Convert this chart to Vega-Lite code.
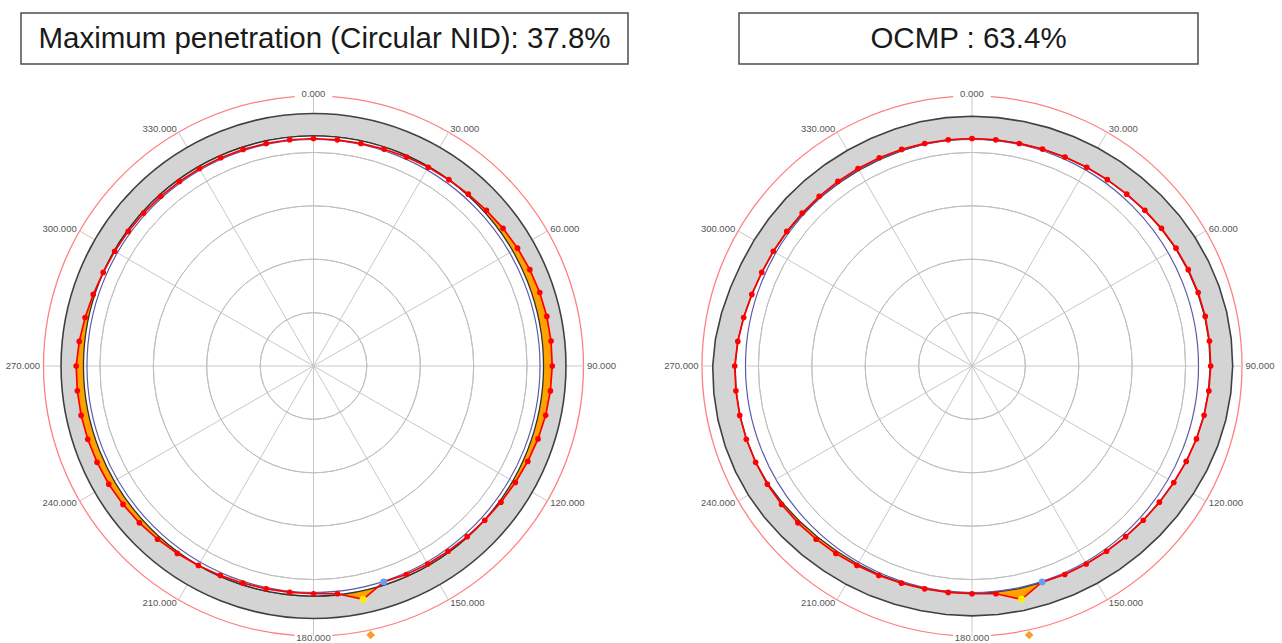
{
  "$schema": "https://vega.github.io/schema/vega-lite/v6.json",
  "background": "white",
  "padding": {"left": 0, "right": 0, "top": 12, "bottom": 0},
  "spacing": 22,
  "config": {"view": {"stroke": null}},
  "datasets": {
    "prof": [
      {"a":0,"r":213.0},{"a":6,"r":212.9},{"a":12,"r":213.0},{"a":18,"r":213.5},{"a":24,"r":214.2},{"a":30,"r":214.9},
      {"a":36,"r":215.6},{"a":42,"r":216.5},{"a":48,"r":217.8},{"a":54,"r":219.3},{"a":60,"r":220.6},{"a":66,"r":221.7},
      {"a":72,"r":222.7},{"a":78,"r":223.3},{"a":84,"r":223.6},{"a":90,"r":223.5},{"a":96,"r":223.0},{"a":102,"r":222.2},
      {"a":108,"r":221.0},{"a":114,"r":219.6},{"a":120,"r":218.2},{"a":126,"r":216.9},{"a":132,"r":215.8},{"a":138,"r":215.0},
      {"a":144,"r":214.4},{"a":150,"r":214.0},{"a":156,"r":213.7},{"a":162,"r":212.6},{"a":168,"r":223.3},{"a":174,"r":214.4},
      {"a":180,"r":213.2},{"a":186,"r":213.1},{"a":192,"r":213.3},{"a":198,"r":213.8},{"a":204,"r":214.6},{"a":210,"r":215.6},
      {"a":216,"r":216.9},{"a":222,"r":218.2},{"a":228,"r":219.4},{"a":234,"r":220.4},{"a":240,"r":221.3},{"a":246,"r":221.8},
      {"a":252,"r":222.2},{"a":258,"r":222.4},{"a":264,"r":222.3},{"a":270,"r":222.2},{"a":276,"r":220.5},{"a":282,"r":218.6},
      {"a":288,"r":216.8},{"a":294,"r":215.5},{"a":300,"r":214.9},{"a":306,"r":214.4},{"a":312,"r":214.0},{"a":318,"r":213.8},
      {"a":324,"r":213.6},{"a":330,"r":213.5},{"a":336,"r":213.4},{"a":342,"r":213.2},{"a":348,"r":213.0},{"a":354,"r":213.0},
      {"a":360,"r":213.0}
    ],
    "ringR": [
      {"a":0,"ri":212.8,"ro":233.8},{"a":6,"ri":212.8,"ro":233.8},{"a":12,"ri":213.0,"ro":234.0},{"a":18,"ri":213.4,"ro":234.4},
      {"a":24,"ri":214.0,"ro":235.0},{"a":30,"ri":214.7,"ro":235.7},{"a":36,"ri":215.5,"ro":236.5},{"a":42,"ri":216.4,"ro":237.4},
      {"a":48,"ri":217.6,"ro":238.6},{"a":54,"ri":218.9,"ro":239.9},{"a":60,"ri":220.1,"ro":241.1},{"a":66,"ri":221.2,"ro":242.2},
      {"a":72,"ri":222.1,"ro":243.1},{"a":78,"ri":222.8,"ro":243.8},{"a":84,"ri":223.1,"ro":244.1},{"a":90,"ri":223.1,"ro":244.1},
      {"a":96,"ri":222.7,"ro":243.7},{"a":102,"ri":222.0,"ro":243.0},{"a":108,"ri":221.0,"ro":242.0},{"a":114,"ri":219.7,"ro":240.7},
      {"a":120,"ri":218.3,"ro":239.3},{"a":126,"ri":217.0,"ro":238.0},{"a":132,"ri":215.9,"ro":236.9},{"a":138,"ri":215.0,"ro":236.0},
      {"a":144,"ri":214.3,"ro":235.3},{"a":150,"ri":213.8,"ro":234.8},{"a":156,"ri":213.4,"ro":234.4},{"a":162,"ri":213.1,"ro":234.1},
      {"a":168,"ri":213.0,"ro":234.0},{"a":174,"ri":212.9,"ro":233.9},{"a":180,"ri":212.9,"ro":233.9},{"a":186,"ri":212.9,"ro":233.9},
      {"a":192,"ri":213.1,"ro":234.1},{"a":198,"ri":213.4,"ro":234.6},{"a":204,"ri":213.8,"ro":235.3},{"a":210,"ri":214.1,"ro":236.0},
      {"a":216,"ri":214.7,"ro":236.8},{"a":222,"ri":215.8,"ro":237.9},{"a":228,"ri":217.2,"ro":239.2},{"a":234,"ri":218.9,"ro":240.6},
      {"a":240,"ri":220.6,"ro":241.8},{"a":246,"ri":221.6,"ro":242.6},{"a":252,"ri":222.0,"ro":243.0},{"a":258,"ri":222.2,"ro":243.2},
      {"a":264,"ri":222.1,"ro":243.1},{"a":270,"ri":221.8,"ro":242.8},{"a":276,"ri":220.6,"ro":241.6},{"a":282,"ri":218.7,"ro":239.7},
      {"a":288,"ri":216.8,"ro":237.8},{"a":294,"ri":215.4,"ro":236.4},{"a":300,"ri":214.6,"ro":235.6},{"a":306,"ri":213.9,"ro":235.0},
      {"a":312,"ri":213.1,"ro":234.5},{"a":318,"ri":212.4,"ro":234.0},{"a":324,"ri":211.8,"ro":233.5},{"a":330,"ri":211.6,"ro":233.2},
      {"a":336,"ri":211.7,"ro":233.2},{"a":342,"ri":212.1,"ro":233.4},{"a":348,"ri":212.6,"ro":233.7},{"a":354,"ri":212.8,"ro":233.8},
      {"a":360,"ri":212.8,"ro":233.8}
    ],
    "spokes": [{"a":0},{"a":30},{"a":60},{"a":90},{"a":120},{"a":150}],
    "labels": [
      {"a":0,"label":"0.000"},{"a":30,"label":"30.000"},{"a":60,"label":"60.000"},{"a":90,"label":"90.000"},
      {"a":120,"label":"120.000"},{"a":150,"label":"150.000"},{"a":180,"label":"180.000"},{"a":210,"label":"210.000"},
      {"a":240,"label":"240.000"},{"a":270,"label":"270.000"},{"a":300,"label":"300.000"},{"a":330,"label":"330.000"}
    ],
    "grid": [{"g":50},{"g":100},{"g":150},{"g":200}],
    "pink": [{"t1":4,"t2":176},{"t1":184,"t2":356}],
    "wall": [{"part":"wall"}],
    "maxmark": [{"a":168,"r":257.5}]
  },
  "vconcat": [
    {
      "spacing": 0,
      "hconcat": [
        {"width": 20, "height": 51, "data": {"values": [{"t": ""}]}, "mark": {"type": "text"}, "encoding": {"text": {"field": "t"}}},
        {"width": 607, "height": 51, "view": {"stroke": "#4d4d4d", "strokeWidth": 1.5, "fill": "white"},
         "data": {"values": [{"t": "Maximum penetration (Circular NID): 37.8%"}]},
         "mark": {"type": "text", "font": "Liberation Sans", "fontSize": 29.5, "fill": "#1a1a1a", "align": "center", "baseline": "middle"},
         "encoding": {"text": {"field": "t"}}},
        {"width": 109, "height": 51, "data": {"values": [{"t": ""}]}, "mark": {"type": "text"}, "encoding": {"text": {"field": "t"}}},
        {"width": 459, "height": 51, "view": {"stroke": "#4d4d4d", "strokeWidth": 1.5, "fill": "white"},
         "data": {"values": [{"t": "OCMP : 63.4%"}]},
         "mark": {"type": "text", "font": "Liberation Sans", "fontSize": 29.5, "fill": "#1a1a1a", "align": "center", "baseline": "middle"},
         "encoding": {"text": {"field": "t"}}}
      ]
    },
    {
      "spacing": 35,
      "hconcat": [
        {
          "width": 627,
          "height": 558,
          "layer": [
            {"data":{"name":"pink"},
             "mark":{"type":"arc","filled":false,"stroke":"#ff8080","strokeWidth":1.3},
             "encoding":{"theta":{"field":"t1","type":"quantitative","stack":null,"scale":{"type":"linear","domain":[0,360],"range":[0,6.283185307179586],"nice":false,"zero":false}},
                         "theta2":{"field":"t2"},
                         "radius":{"datum":252.8,"type":"quantitative","scale":{"type":"linear","domain":[0,300],"range":[0,320.4],"nice":false}},
                         "radius2":{"datum":252.8}}},
            {"data":{"name":"spokes"},
             "transform":[{"calculate":"-252.8*sin(datum.a*PI/180)","as":"xa"},{"calculate":"-252.8*cos(datum.a*PI/180)","as":"ya"},{"calculate":"252.8*sin(datum.a*PI/180)","as":"xb"},{"calculate":"252.8*cos(datum.a*PI/180)","as":"yb"}],
             "mark":{"type":"rule","stroke":"#c8c8c8","strokeWidth":1},
             "encoding":{"x":{"field":"xa","type":"quantitative","scale":{"domain":[-293.5,293.5],"nice":false,"zero":false},"axis":null},
                         "y":{"field":"ya","type":"quantitative","scale":{"domain":[-261.2,261.2],"nice":false,"zero":false},"axis":null},
                         "x2":{"field":"xb"},"y2":{"field":"yb"}}},
            {"data":{"name":"wall"},
             "mark":{"type":"arc","fill":"#d4d4d4","stroke":"#404040","strokeWidth":1.6},
             "encoding":{"theta":{"datum":0,"type":"quantitative","scale":{"type":"linear","domain":[0,360],"range":[0,6.283185307179586],"nice":false,"zero":false}},
                         "theta2":{"datum":360},
                         "radius":{"datum":236.4,"type":"quantitative","scale":{"type":"linear","domain":[0,300],"range":[0,320.4],"nice":false}},
                         "radius2":{"datum":215.4}}},
            {"data":{"name":"prof"},
             "transform":[{"calculate":"datum.r*sin(datum.a*PI/180)","as":"x"},{"calculate":"datum.r*cos(datum.a*PI/180)","as":"y"}],
             "mark":{"type":"line","fill":"#ffa200","strokeOpacity":0,"strokeWidth":0},
             "encoding":{"x":{"field":"x","type":"quantitative","scale":{"domain":[-293.5,293.5],"nice":false,"zero":false},"axis":null},
                         "y":{"field":"y","type":"quantitative","scale":{"domain":[-261.2,261.2],"nice":false,"zero":false},"axis":null},
                         "order":{"field":"a","type":"quantitative"}}},
            {"data":{"name":"wall"},
             "mark":{"type":"arc","fill":"#ffffff","strokeWidth":0},
             "encoding":{"theta":{"datum":0,"type":"quantitative","scale":{"type":"linear","domain":[0,360],"range":[0,6.283185307179586],"nice":false,"zero":false}},
                         "theta2":{"datum":360},
                         "radius":{"datum":215.4,"type":"quantitative","scale":{"type":"linear","domain":[0,300],"range":[0,320.4],"nice":false}},
                         "radius2":{"datum":0}}},
            {"data":{"name":"spokes"},
             "transform":[{"calculate":"-215.4*sin(datum.a*PI/180)","as":"xa"},{"calculate":"-215.4*cos(datum.a*PI/180)","as":"ya"},{"calculate":"215.4*sin(datum.a*PI/180)","as":"xb"},{"calculate":"215.4*cos(datum.a*PI/180)","as":"yb"}],
             "mark":{"type":"rule","stroke":"#c8c8c8","strokeWidth":1},
             "encoding":{"x":{"field":"xa","type":"quantitative","scale":{"domain":[-293.5,293.5],"nice":false,"zero":false},"axis":null},
                         "y":{"field":"ya","type":"quantitative","scale":{"domain":[-261.2,261.2],"nice":false,"zero":false},"axis":null},
                         "x2":{"field":"xb"},"y2":{"field":"yb"}}},
            {"data":{"name":"grid"},
             "mark":{"type":"arc","filled":false,"stroke":"#c0c0c0","strokeWidth":1},
             "encoding":{"theta":{"datum":0,"type":"quantitative","scale":{"type":"linear","domain":[0,360],"range":[0,6.283185307179586],"nice":false,"zero":false}},
                         "theta2":{"datum":360},
                         "radius":{"field":"g","type":"quantitative","scale":{"type":"linear","domain":[0,300],"range":[0,320.4],"nice":false}},
                         "radius2":{"field":"g"}}},
            {"data":{"name":"wall"},
             "mark":{"type":"arc","filled":false,"stroke":"#5c5ca6","strokeWidth":1.2},
             "encoding":{"theta":{"datum":0,"type":"quantitative","scale":{"type":"linear","domain":[0,360],"range":[0,6.283185307179586],"nice":false,"zero":false}},
                         "theta2":{"datum":360},
                         "radius":{"datum":212.1,"type":"quantitative","scale":{"type":"linear","domain":[0,300],"range":[0,320.4],"nice":false}},
                         "radius2":{"datum":212.1}}},
            {"data":{"name":"wall"},
             "mark":{"type":"arc","filled":false,"stroke":"#333333","strokeWidth":1.3},
             "encoding":{"theta":{"datum":0,"type":"quantitative","scale":{"type":"linear","domain":[0,360],"range":[0,6.283185307179586],"nice":false,"zero":false}},
                         "theta2":{"datum":360},
                         "radius":{"datum":215.4,"type":"quantitative","scale":{"type":"linear","domain":[0,300],"range":[0,320.4],"nice":false}},
                         "radius2":{"datum":215.4}}},
            {"data":{"name":"prof"},
             "transform":[{"calculate":"datum.r*sin(datum.a*PI/180)","as":"x"},{"calculate":"datum.r*cos(datum.a*PI/180)","as":"y"}],
             "mark":{"type":"line","stroke":"#ff0000","strokeWidth":1.7},
             "encoding":{"x":{"field":"x","type":"quantitative","scale":{"domain":[-293.5,293.5],"nice":false,"zero":false},"axis":null},
                         "y":{"field":"y","type":"quantitative","scale":{"domain":[-261.2,261.2],"nice":false,"zero":false},"axis":null},
                         "order":{"field":"a","type":"quantitative"}}},
            {"data":{"name":"prof"},
             "transform":[{"filter":"datum.a != 162 && datum.a != 168 && datum.a < 360"},{"calculate":"datum.r*sin(datum.a*PI/180)","as":"x"},{"calculate":"datum.r*cos(datum.a*PI/180)","as":"y"}],
             "mark":{"type":"point","filled":true,"fill":"#ff0000","size":32,"opacity":1,"strokeWidth":0},
             "encoding":{"x":{"field":"x","type":"quantitative","scale":{"domain":[-293.5,293.5],"nice":false,"zero":false},"axis":null},
                         "y":{"field":"y","type":"quantitative","scale":{"domain":[-261.2,261.2],"nice":false,"zero":false},"axis":null}}},
            {"data":{"name":"prof"},
             "transform":[{"filter":"datum.a == 162"},{"calculate":"datum.r*sin(datum.a*PI/180)","as":"x"},{"calculate":"datum.r*cos(datum.a*PI/180)","as":"y"}],
             "mark":{"type":"point","filled":true,"fill":"#6a9cf0","size":45,"opacity":1,"strokeWidth":0},
             "encoding":{"x":{"field":"x","type":"quantitative","scale":{"domain":[-293.5,293.5],"nice":false,"zero":false},"axis":null},
                         "y":{"field":"y","type":"quantitative","scale":{"domain":[-261.2,261.2],"nice":false,"zero":false},"axis":null}}},
            {"data":{"name":"prof"},
             "transform":[{"filter":"datum.a == 168"},{"calculate":"datum.r*sin(datum.a*PI/180)","as":"x"},{"calculate":"datum.r*cos(datum.a*PI/180)","as":"y"}],
             "mark":{"type":"point","filled":true,"fill":"#ffee00","size":50,"opacity":1,"strokeWidth":0},
             "encoding":{"x":{"field":"x","type":"quantitative","scale":{"domain":[-293.5,293.5],"nice":false,"zero":false},"axis":null},
                         "y":{"field":"y","type":"quantitative","scale":{"domain":[-261.2,261.2],"nice":false,"zero":false},"axis":null}}},
            {"data":{"name":"maxmark"},
             "transform":[{"calculate":"datum.r*sin(datum.a*PI/180)","as":"x"},{"calculate":"datum.r*cos(datum.a*PI/180)","as":"y"}],
             "mark":{"type":"point","shape":"diamond","filled":true,"fill":"#f5a02a","size":75,"opacity":1,"strokeWidth":0},
             "encoding":{"x":{"field":"x","type":"quantitative","scale":{"domain":[-293.5,293.5],"nice":false,"zero":false},"axis":null},
                         "y":{"field":"y","type":"quantitative","scale":{"domain":[-261.2,261.2],"nice":false,"zero":false},"axis":null}}},
            {"data":{"name":"labels"},
             "transform":[{"filter":"datum.a == 0 || datum.a == 180"}],
             "mark":{"type":"text","font":"Liberation Sans","fontSize":9.5,"fill":"#555555","align":"center","baseline":"middle"},
             "encoding":{"theta":{"field":"a","type":"quantitative","scale":{"type":"linear","domain":[0,360],"range":[0,6.283185307179586],"nice":false,"zero":false}},
                         "radius":{"datum":255,"type":"quantitative","scale":{"type":"linear","domain":[0,300],"range":[0,320.4],"nice":false}},
                         "text":{"field":"label"}}},
            {"data":{"name":"labels"},
             "transform":[{"filter":"datum.a > 0 && datum.a < 180"}],
             "mark":{"type":"text","font":"Liberation Sans","fontSize":9.5,"fill":"#555555","align":"left","baseline":"middle"},
             "encoding":{"theta":{"field":"a","type":"quantitative","scale":{"type":"linear","domain":[0,360],"range":[0,6.283185307179586],"nice":false,"zero":false}},
                         "radius":{"datum":256,"type":"quantitative","scale":{"type":"linear","domain":[0,300],"range":[0,320.4],"nice":false}},
                         "text":{"field":"label"}}},
            {"data":{"name":"labels"},
             "transform":[{"filter":"datum.a > 180"}],
             "mark":{"type":"text","font":"Liberation Sans","fontSize":9.5,"fill":"#555555","align":"right","baseline":"middle"},
             "encoding":{"theta":{"field":"a","type":"quantitative","scale":{"type":"linear","domain":[0,360],"range":[0,6.283185307179586],"nice":false,"zero":false}},
                         "radius":{"datum":256,"type":"quantitative","scale":{"type":"linear","domain":[0,300],"range":[0,320.4],"nice":false}},
                         "text":{"field":"label"}}}
          ]
        },
        {
          "width": 620,
          "height": 558,
          "layer": [
            {"data":{"name":"pink"},
             "mark":{"type":"arc","filled":false,"stroke":"#ff8080","strokeWidth":1.3},
             "encoding":{"theta":{"field":"t1","type":"quantitative","stack":null,"scale":{"type":"linear","domain":[0,360],"range":[0,6.283185307179586],"nice":false,"zero":false}},
                         "theta2":{"field":"t2"},
                         "radius":{"datum":252.8,"type":"quantitative","scale":{"type":"linear","domain":[0,300],"range":[0,320.4],"nice":false}},
                         "radius2":{"datum":252.8}}},
            {"data":{"name":"spokes"},
             "transform":[{"calculate":"-252.8*sin(datum.a*PI/180)","as":"xa"},{"calculate":"-252.8*cos(datum.a*PI/180)","as":"ya"},{"calculate":"252.8*sin(datum.a*PI/180)","as":"xb"},{"calculate":"252.8*cos(datum.a*PI/180)","as":"yb"}],
             "mark":{"type":"rule","stroke":"#c8c8c8","strokeWidth":1},
             "encoding":{"x":{"field":"xa","type":"quantitative","scale":{"domain":[-290.3,290.3],"nice":false,"zero":false},"axis":null},
                         "y":{"field":"ya","type":"quantitative","scale":{"domain":[-261.2,261.2],"nice":false,"zero":false},"axis":null},
                         "x2":{"field":"xb"},"y2":{"field":"yb"}}},
            {"data":{"name":"ringR"},
             "transform":[{"calculate":"datum.ro*sin(datum.a*PI/180)","as":"x"},{"calculate":"datum.ro*cos(datum.a*PI/180)","as":"y"}],
             "mark":{"type":"line","fill":"#d4d4d4","stroke":"#404040","strokeWidth":1.6},
             "encoding":{"x":{"field":"x","type":"quantitative","scale":{"domain":[-290.3,290.3],"nice":false,"zero":false},"axis":null},
                         "y":{"field":"y","type":"quantitative","scale":{"domain":[-261.2,261.2],"nice":false,"zero":false},"axis":null},
                         "order":{"field":"a","type":"quantitative"}}},
            {"data":{"name":"prof"},
             "transform":[{"calculate":"datum.r*sin(datum.a*PI/180)","as":"x"},{"calculate":"datum.r*cos(datum.a*PI/180)","as":"y"}],
             "mark":{"type":"line","fill":"#ffa200","strokeOpacity":0,"strokeWidth":0},
             "encoding":{"x":{"field":"x","type":"quantitative","scale":{"domain":[-290.3,290.3],"nice":false,"zero":false},"axis":null},
                         "y":{"field":"y","type":"quantitative","scale":{"domain":[-261.2,261.2],"nice":false,"zero":false},"axis":null},
                         "order":{"field":"a","type":"quantitative"}}},
            {"data":{"name":"ringR"},
             "transform":[{"calculate":"datum.ri*sin(datum.a*PI/180)","as":"x"},{"calculate":"datum.ri*cos(datum.a*PI/180)","as":"y"}],
             "mark":{"type":"line","fill":"#ffffff","stroke":"#333333","strokeWidth":1.3},
             "encoding":{"x":{"field":"x","type":"quantitative","scale":{"domain":[-290.3,290.3],"nice":false,"zero":false},"axis":null},
                         "y":{"field":"y","type":"quantitative","scale":{"domain":[-261.2,261.2],"nice":false,"zero":false},"axis":null},
                         "order":{"field":"a","type":"quantitative"}}},
            {"data":{"name":"spokes"},
             "transform":[{"calculate":"-211.5*sin(datum.a*PI/180)","as":"xa"},{"calculate":"-211.5*cos(datum.a*PI/180)","as":"ya"},{"calculate":"211.5*sin(datum.a*PI/180)","as":"xb"},{"calculate":"211.5*cos(datum.a*PI/180)","as":"yb"}],
             "mark":{"type":"rule","stroke":"#c8c8c8","strokeWidth":1},
             "encoding":{"x":{"field":"xa","type":"quantitative","scale":{"domain":[-290.3,290.3],"nice":false,"zero":false},"axis":null},
                         "y":{"field":"ya","type":"quantitative","scale":{"domain":[-261.2,261.2],"nice":false,"zero":false},"axis":null},
                         "x2":{"field":"xb"},"y2":{"field":"yb"}}},
            {"data":{"name":"grid"},
             "mark":{"type":"arc","filled":false,"stroke":"#c0c0c0","strokeWidth":1},
             "encoding":{"theta":{"datum":0,"type":"quantitative","scale":{"type":"linear","domain":[0,360],"range":[0,6.283185307179586],"nice":false,"zero":false}},
                         "theta2":{"datum":360},
                         "radius":{"field":"g","type":"quantitative","scale":{"type":"linear","domain":[0,300],"range":[0,320.4],"nice":false}},
                         "radius2":{"field":"g"}}},
            {"data":{"name":"wall"},
             "mark":{"type":"arc","filled":false,"stroke":"#5c5ca6","strokeWidth":1.2},
             "encoding":{"theta":{"datum":0,"type":"quantitative","scale":{"type":"linear","domain":[0,360],"range":[0,6.283185307179586],"nice":false,"zero":false}},
                         "theta2":{"datum":360},
                         "radius":{"datum":212.1,"type":"quantitative","scale":{"type":"linear","domain":[0,300],"range":[0,320.4],"nice":false}},
                         "radius2":{"datum":212.1}}},
            {"data":{"name":"prof"},
             "transform":[{"calculate":"datum.r*sin(datum.a*PI/180)","as":"x"},{"calculate":"datum.r*cos(datum.a*PI/180)","as":"y"}],
             "mark":{"type":"line","stroke":"#ff0000","strokeWidth":1.7},
             "encoding":{"x":{"field":"x","type":"quantitative","scale":{"domain":[-290.3,290.3],"nice":false,"zero":false},"axis":null},
                         "y":{"field":"y","type":"quantitative","scale":{"domain":[-261.2,261.2],"nice":false,"zero":false},"axis":null},
                         "order":{"field":"a","type":"quantitative"}}},
            {"data":{"name":"prof"},
             "transform":[{"filter":"datum.a != 162 && datum.a != 168 && datum.a < 360"},{"calculate":"datum.r*sin(datum.a*PI/180)","as":"x"},{"calculate":"datum.r*cos(datum.a*PI/180)","as":"y"}],
             "mark":{"type":"point","filled":true,"fill":"#ff0000","size":32,"opacity":1,"strokeWidth":0},
             "encoding":{"x":{"field":"x","type":"quantitative","scale":{"domain":[-290.3,290.3],"nice":false,"zero":false},"axis":null},
                         "y":{"field":"y","type":"quantitative","scale":{"domain":[-261.2,261.2],"nice":false,"zero":false},"axis":null}}},
            {"data":{"name":"prof"},
             "transform":[{"filter":"datum.a == 162"},{"calculate":"datum.r*sin(datum.a*PI/180)","as":"x"},{"calculate":"datum.r*cos(datum.a*PI/180)","as":"y"}],
             "mark":{"type":"point","filled":true,"fill":"#6a9cf0","size":45,"opacity":1,"strokeWidth":0},
             "encoding":{"x":{"field":"x","type":"quantitative","scale":{"domain":[-290.3,290.3],"nice":false,"zero":false},"axis":null},
                         "y":{"field":"y","type":"quantitative","scale":{"domain":[-261.2,261.2],"nice":false,"zero":false},"axis":null}}},
            {"data":{"name":"prof"},
             "transform":[{"filter":"datum.a == 168"},{"calculate":"datum.r*sin(datum.a*PI/180)","as":"x"},{"calculate":"datum.r*cos(datum.a*PI/180)","as":"y"}],
             "mark":{"type":"point","filled":true,"fill":"#ffee00","size":50,"opacity":1,"strokeWidth":0},
             "encoding":{"x":{"field":"x","type":"quantitative","scale":{"domain":[-290.3,290.3],"nice":false,"zero":false},"axis":null},
                         "y":{"field":"y","type":"quantitative","scale":{"domain":[-261.2,261.2],"nice":false,"zero":false},"axis":null}}},
            {"data":{"name":"maxmark"},
             "transform":[{"calculate":"datum.r*sin(datum.a*PI/180)","as":"x"},{"calculate":"datum.r*cos(datum.a*PI/180)","as":"y"}],
             "mark":{"type":"point","shape":"diamond","filled":true,"fill":"#f5a02a","size":75,"opacity":1,"strokeWidth":0},
             "encoding":{"x":{"field":"x","type":"quantitative","scale":{"domain":[-290.3,290.3],"nice":false,"zero":false},"axis":null},
                         "y":{"field":"y","type":"quantitative","scale":{"domain":[-261.2,261.2],"nice":false,"zero":false},"axis":null}}},
            {"data":{"name":"labels"},
             "transform":[{"filter":"datum.a == 0 || datum.a == 180"}],
             "mark":{"type":"text","font":"Liberation Sans","fontSize":9.5,"fill":"#555555","align":"center","baseline":"middle"},
             "encoding":{"theta":{"field":"a","type":"quantitative","scale":{"type":"linear","domain":[0,360],"range":[0,6.283185307179586],"nice":false,"zero":false}},
                         "radius":{"datum":255,"type":"quantitative","scale":{"type":"linear","domain":[0,300],"range":[0,320.4],"nice":false}},
                         "text":{"field":"label"}}},
            {"data":{"name":"labels"},
             "transform":[{"filter":"datum.a > 0 && datum.a < 180"}],
             "mark":{"type":"text","font":"Liberation Sans","fontSize":9.5,"fill":"#555555","align":"left","baseline":"middle"},
             "encoding":{"theta":{"field":"a","type":"quantitative","scale":{"type":"linear","domain":[0,360],"range":[0,6.283185307179586],"nice":false,"zero":false}},
                         "radius":{"datum":256,"type":"quantitative","scale":{"type":"linear","domain":[0,300],"range":[0,320.4],"nice":false}},
                         "text":{"field":"label"}}},
            {"data":{"name":"labels"},
             "transform":[{"filter":"datum.a > 180"}],
             "mark":{"type":"text","font":"Liberation Sans","fontSize":9.5,"fill":"#555555","align":"right","baseline":"middle"},
             "encoding":{"theta":{"field":"a","type":"quantitative","scale":{"type":"linear","domain":[0,360],"range":[0,6.283185307179586],"nice":false,"zero":false}},
                         "radius":{"datum":256,"type":"quantitative","scale":{"type":"linear","domain":[0,300],"range":[0,320.4],"nice":false}},
                         "text":{"field":"label"}}}
          ]
        }
      ]
    }
  ]
}
